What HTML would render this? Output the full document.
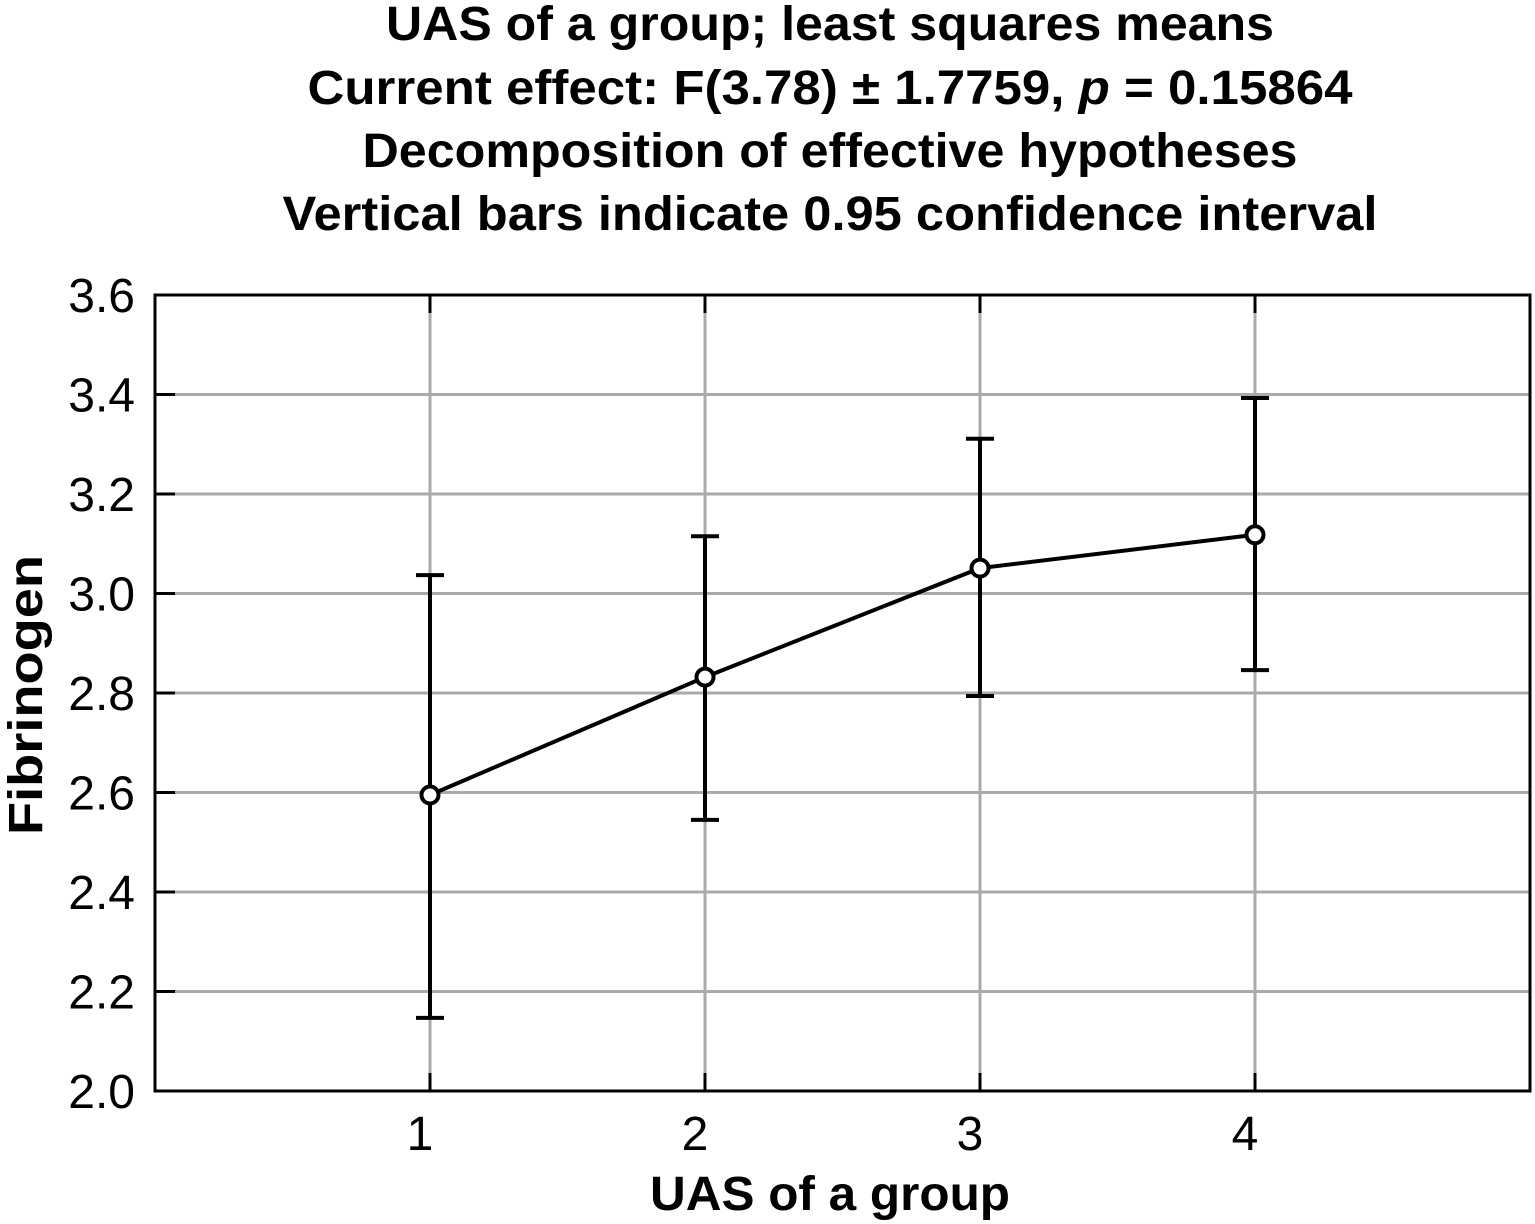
<!DOCTYPE html>
<html><head><meta charset="utf-8"><style>
body{margin:0;background:#fff;}
svg{display:block;font-family:"Liberation Sans",sans-serif;}
</style></head><body>
<svg id="chart" width="1535" height="1224" viewBox="0 0 1535 1224">
<g font-size="48" font-weight="bold" text-anchor="middle" fill="#000">
<text x="830" y="40" textLength="888" lengthAdjust="spacingAndGlyphs">UAS of a group; least squares means</text>
<text x="830" y="104" textLength="1045" lengthAdjust="spacingAndGlyphs">Current effect: F(3.78) ± 1.7759, <tspan font-style="italic">p</tspan> = 0.15864</text>
<text x="830" y="167" textLength="935" lengthAdjust="spacingAndGlyphs">Decomposition of effective hypotheses</text>
<text x="830" y="230" textLength="1095" lengthAdjust="spacingAndGlyphs">Vertical bars indicate 0.95 confidence interval</text>
</g>
<g id="grid"></g>
<g id="ticks"></g>
<g id="series"></g>
<rect x="155" y="295" width="1375" height="796" fill="none" stroke="#000" stroke-width="3"/>
<text x="830" y="1210" font-size="48" font-weight="bold" text-anchor="middle" textLength="360" lengthAdjust="spacingAndGlyphs">UAS of a group</text>
<text transform="translate(42,695) rotate(-90)" font-size="48" font-weight="bold" text-anchor="middle" textLength="280" lengthAdjust="spacingAndGlyphs">Fibrinogen</text>
</svg>
<script>
const categories = [1, 2, 3, 4];
const means = [2.595, 2.832, 3.051, 3.118];
const ciLow = [2.147, 2.545, 2.794, 2.846];
const ciHigh = [3.037, 3.115, 3.311, 3.393];
const yTicks = [2.0, 2.2, 2.4, 2.6, 2.8, 3.0, 3.2, 3.4, 3.6];
const yTickLabels = ["2.0","2.2","2.4","2.6","2.8","3.0","3.2","3.4","3.6"];

const NS = "http://www.w3.org/2000/svg";
const L = 155, R = 1530, T = 295, B = 1091;
const xMin = 0, xMax = 5, yMin = 2.0, yMax = 3.6;
function xs(v){ return L + (v - xMin) / (xMax - xMin) * (R - L); }
function ys(v){ return B - (v - yMin) / (yMax - yMin) * (B - T); }
function mk(tag, attrs, parent){
  const e = document.createElementNS(NS, tag);
  for (const k in attrs) e.setAttribute(k, attrs[k]);
  parent.appendChild(e); return e;
}
const grid = document.getElementById('grid');
const ticks = document.getElementById('ticks');
const series = document.getElementById('series');

yTicks.forEach((v, i) => {
  const y = ys(v);
  if (i > 0 && i < yTicks.length - 1) {
    const g = mk('line', {x1: L, x2: R, y1: y, y2: y, stroke: '#aaa', 'stroke-width': 3}, grid);
    
    
  }
  const t = mk('line', {x1: L, x2: L + 20, y1: y, y2: y, stroke: '#000', 'stroke-width': 3}, ticks);
  
  
  const lb = mk('text', {x: 135, y: y + 17, 'font-size': 48, 'text-anchor': 'end'}, ticks);
  
  
  lb.textContent = yTickLabels[i];
});
categories.forEach((c) => {
  const x = xs(c);
  const g = mk('line', {x1: x, x2: x, y1: T, y2: B, stroke: '#aaa', 'stroke-width': 3}, grid);
  
  
  const t1 = mk('line', {x1: x, x2: x, y1: T, y2: T + 18, stroke: '#000', 'stroke-width': 3}, ticks);
  
  
  const t2 = mk('line', {x1: x, x2: x, y1: B, y2: B - 18, stroke: '#000', 'stroke-width': 3}, ticks);
  
  
  const lb = mk('text', {x: x - 10, y: 1150, 'font-size': 48, 'text-anchor': 'middle'}, ticks);
  
  
  lb.textContent = String(c);
});
categories.forEach((c, i) => {
  const x = xs(c);
  const eb = mk('path', {d: `M${x-14},${ys(ciHigh[i])}H${x+14}M${x},${ys(ciHigh[i])}V${ys(ciLow[i])}M${x-14},${ys(ciLow[i])}H${x+14}`, stroke: '#000', 'stroke-width': 4, fill: 'none'}, series);
  
  
});
const pts = categories.map((c, i) => xs(c) + ',' + ys(means[i])).join(' ');
const ln = mk('polyline', {points: pts, fill: 'none', stroke: '#000', 'stroke-width': 4}, series);


categories.forEach((c, i) => {
  const p = mk('circle', {cx: xs(c), cy: ys(means[i]), r: 8.5, fill: '#fff', stroke: '#000', 'stroke-width': 4}, series);
  
  
});
</script>
</body></html>
